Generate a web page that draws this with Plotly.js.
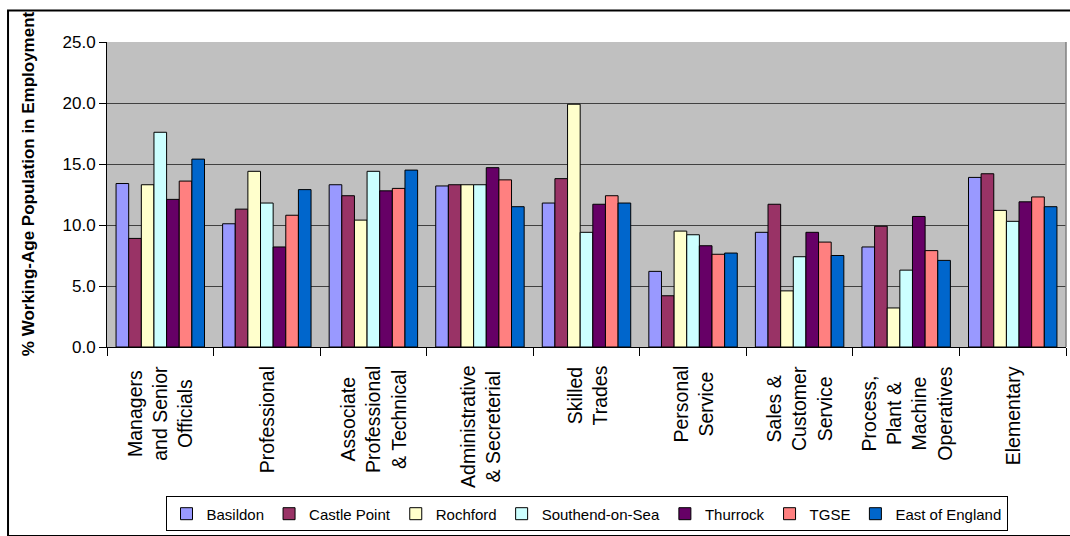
<!DOCTYPE html>
<html>
<head>
<meta charset="utf-8">
<script src="https://cdn.plot.ly/plotly-3.0.1.min.js"></script>
<style>html,body{margin:0;padding:0;background:#fff;}#chart{width:1070px;height:536px;}</style>
</head>
<body>
<div id="chart"></div>
<script>
// Categories (keys) and their display labels
var categories = ["Managers", "Professional", "Associate", "Administrative", "Skilled", "Personal", "Sales", "Process", "Elementary"];
var categoryLabels = [
  "Managers<br>and Senior<br>Officials",
  "Professional",
  "Associate<br>Professional<br>& Technical",
  "Administrative<br>& Secreterial",
  "Skilled<br>Trades",
  "Personal<br>Service",
  "Sales &<br>Customer<br>Service",
  "Process,<br>Plant &<br>Machine<br>Operatives",
  "Elementary"
];

// Series names and values (% of working-age population in employment)
var seriesNames = ["Basildon", "Castle Point", "Rochford", "Southend-on-Sea", "Thurrock", "TGSE", "East of England"];
var basildon    = [13.4, 10.1, 13.3, 13.2, 11.8, 6.2, 9.4, 8.2, 13.9];
var castlePoint = [8.9, 11.3, 12.4, 13.3, 13.8, 4.2, 11.7, 9.9, 14.2];
var rochford    = [13.3, 14.4, 10.4, 13.3, 19.9, 9.5, 4.6, 3.2, 11.2];
var southend    = [17.6, 11.8, 14.4, 13.3, 9.4, 9.2, 7.4, 6.3, 10.3];
var thurrock    = [12.1, 8.2, 12.8, 14.7, 11.7, 8.3, 9.4, 10.7, 11.9];
var tgse        = [13.6, 10.8, 13.0, 13.7, 12.4, 7.6, 8.6, 7.9, 12.3];
var eastEngland = [15.4, 12.9, 14.5, 11.5, 11.8, 7.7, 7.5, 7.1, 11.5];

var yTitle = "% Working-Age Population in Employment";

var seriesValues = [basildon, castlePoint, rochford, southend, thurrock, tgse, eastEngland];
var seriesColors = ["#9999FF", "#993366", "#FFFFCC", "#CCFFFF", "#660066", "#FF8080", "#0066CC"];

var FONT = "Liberation Sans, Arial, sans-serif";

var traces = seriesNames.map(function (name, i) {
  return {
    type: "bar",
    name: name,
    x: categories,
    y: seriesValues[i],
    marker: { color: seriesColors[i], line: { color: "#000000", width: 1 } },
    hoverinfo: "x+y+name"
  };
});

var annotations = categories.map(function (c, i) {
  return {
    xref: "x", yref: "paper",
    x: c, y: 0,
    yshift: -17,
    xanchor: "center", yanchor: "top",
    text: categoryLabels[i],
    textangle: -90,
    align: "center",
    showarrow: false,
    font: { family: FONT, size: 19.5, color: "#000000" }
  };
});

annotations.push({
  xref: "paper", yref: "paper",
  x: -0.082, y: 0.535,
  xanchor: "center", yanchor: "middle",
  text: "<b>" + yTitle + "</b>",
  textangle: -90,
  showarrow: false,
  font: { family: FONT, size: 17, color: "#000000" }
});

var layout = {
  width: 1070,
  height: 536,
  margin: { l: 107, r: 4, t: 42, b: 183, pad: 0 },
  paper_bgcolor: "#FFFFFF",
  plot_bgcolor: "#C0C0C0",
  barmode: "group",
  bargap: 0.17,
  bargroupgap: 0,
  showlegend: true,
  legend: {
    orientation: "h",
    x: 0.5, xanchor: "center",
    y: -0.49, yanchor: "top",
    bordercolor: "#000000", borderwidth: 1,
    bgcolor: "#FFFFFF",
    itemwidth: 30,
    font: { family: FONT, size: 15, color: "#000000" },
    traceorder: "normal"
  },
  xaxis: {
    type: "category",
    showticklabels: false,
    showgrid: false,
    showline: true, linecolor: "#000000", linewidth: 1,
    ticks: "outside", tickson: "boundaries", ticklen: 8, tickcolor: "#000000",
    zeroline: false
  },
  yaxis: {
    range: [0, 25],
    dtick: 5,
    tickformat: ".1f",
    showline: true, linecolor: "#000000", linewidth: 1,
    ticks: "outside", ticklen: 7, tickcolor: "#000000",
    showgrid: true, gridcolor: "#404040", gridwidth: 1,
    zeroline: false,
    tickfont: { family: FONT, size: 17, color: "#000000" }
  },
  annotations: annotations,
  shapes: [
    { type: "line", xref: "paper", yref: "paper", x0: 1, x1: 1, y0: 0, y1: 1,
      line: { color: "#808080", width: 1.5 }, layer: "above" },
    { type: "rect", xref: "paper", yref: "paper", x0: -0.1032, x1: 1.01, y0: -0.62, y1: 1.1029,
      line: { color: "#000000", width: 2 }, fillcolor: "rgba(0,0,0,0)", layer: "below" }
  ],
  font: { family: FONT, color: "#000000" },
  hovermode: "closest"
};

Plotly.newPlot("chart", traces, layout, { displayModeBar: false, staticPlot: false });
</script>
</body>
</html>
